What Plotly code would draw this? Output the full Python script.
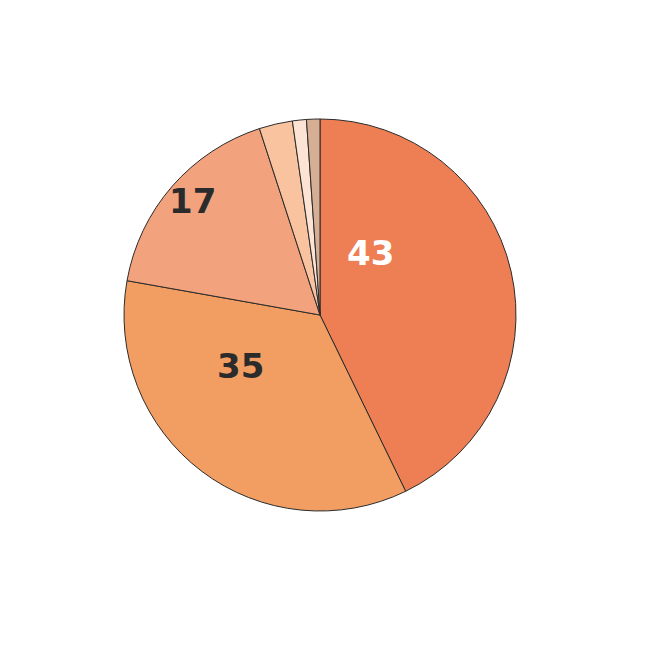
import math
import plotly.graph_objects as go

# porcentajes por categoría (sentido horario desde arriba)
categorias = ["A", "B", "C", "D", "E", "F"]
valores = [42.8, 35.0, 17.2, 2.75, 1.15, 1.1]
mostrar = [True, True, True, False, False, False]
colores = ["#EE7F55", "#F29E62", "#F2A27C", "#F8C39E", "#FDE3D3", "#D6AE94"]
colores_texto = ["#FFFFFF", "#2B2B2B", "#2B2B2B"]

W, H = 651, 645
# centro y radio del pastel en píxeles de la figura
cx, cy, R = 312, 307, 196

fig = go.Figure(go.Pie(
    labels=categorias,
    values=valores,
    textinfo="none",
    sort=False,
    direction="clockwise",
    rotation=0,
    marker=dict(colors=colores, line=dict(color="#2B2B2B", width=1)),
    hoverinfo="label+percent",
    domain=dict(x=[(cx - R) / W, (cx + R) / W],
                y=[(H - cy - R) / H, (H - cy + R) / H]),
))

# etiquetas redondeadas de los sectores grandes
etiquetas = [str(round(v)) for v, m in zip(valores, mostrar) if m]

# posición de cada etiqueta: ángulo (grados, horario desde arriba) y fracción del radio
pos_etiquetas = [(39.2, 0.41), (237.2, 0.48), (311.8, 0.876)]
for texto, color, (ang, frac) in zip(etiquetas, colores_texto, pos_etiquetas):
    a = math.radians(ang)
    px_ = cx + frac * R * math.sin(a)
    py_ = cy - frac * R * math.cos(a)
    fig.add_annotation(
        x=px_ / W, y=(H - py_) / H, xref="paper", yref="paper",
        text=texto, showarrow=False, xanchor="center", yanchor="middle",
        font=dict(family="DejaVu Sans", size=34, color=color, weight="bold"),
    )

fig.update_layout(
    width=W,
    height=H,
    showlegend=False,
    margin=dict(l=0, r=0, t=0, b=0),
    paper_bgcolor="white",
    plot_bgcolor="white",
)

fig.write_html("out.html")
